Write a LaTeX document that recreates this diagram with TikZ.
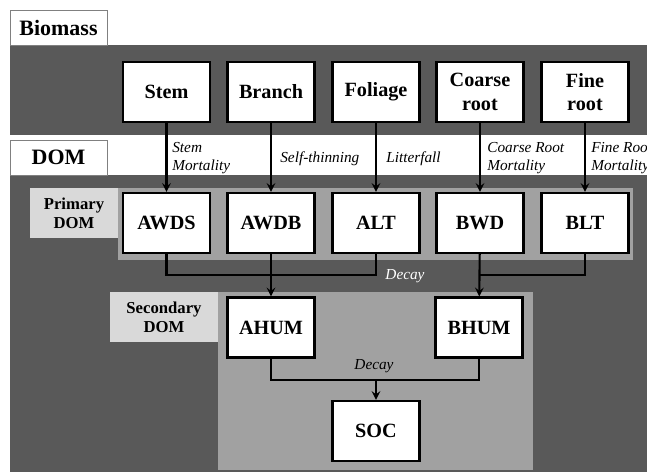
\documentclass[tikz,border=0pt]{standalone}
\usepackage{fontspec}
\setmainfont{Liberation Serif}
\begin{document}
\begin{tikzpicture}[x=0.02cm, y=-0.02cm,
    pool/.style={draw, very thick, fill=white, minimum width=1.74cm, minimum height=1.2cm,
      inner sep=1pt, align=center, font=\bfseries\fontsize{11.5}{13.5}\selectfont},
    tag/.style={draw=gray, fill=white, minimum width=1.94cm, minimum height=0.7cm,
      font=\bfseries\fontsize{12.5}{13}\selectfont},
    subtag/.style={fill=black!15, align=center, inner sep=0pt,
      font=\bfseries\fontsize{9.5}{11}\selectfont},
    flow/.style={anchor=north west, align=left, inner sep=0pt,
      font=\itshape\fontsize{8.7}{10}\selectfont},
    link/.style={very thick}]
  \useasboundingbox (0,0) rectangle (647,472);
  % background bands
  \fill[black!65] (10,45) rectangle (647,135);
  \fill[black!65] (10,175) rectangle (647,472);
  \fill[black!37] (118,188) rectangle (633,260);
  \fill[black!37] (218,292) rectangle (533,470);
  \node[subtag, minimum width=1.76cm, minimum height=1cm] (prim) at (74,213) {Primary\\DOM};
  \node[subtag, minimum width=2.16cm, minimum height=1cm] (sec) at (164,317) {Secondary\\DOM};
  \node[tag] (bio) at (58.5,27.5) {Biomass};
  \node[tag] (dom) at (58.5,157.5) {DOM};
  % biomass pools
  \node[pool] (stem) at (166.5,92) {Stem};
  \node[pool] (branch) at (271,92) {Branch};
  \node[pool] (foliage) at (376,92) {Foliage};
  \node[pool] (croot) at (480,92) {Coarse\\root};
  \node[pool] (froot) at (585,92) {Fine\\root};
  % primary DOM
  \node[pool] (awds) at (166.5,223) {AWDS};
  \node[pool] (awdb) at (271,223) {AWDB};
  \node[pool] (alt) at (376,223) {ALT};
  \node[pool] (bwd) at (480,223) {BWD};
  \node[pool] (blt) at (585,223) {BLT};
  % secondary DOM
  \node[pool] (ahum) at (271,327.5) {AHUM};
  \node[pool] (bhum) at (479,327.5) {BHUM};
  \node[pool] (soc) at (376,431) {SOC};
  % transfers
  \draw[link, ->, >=stealth] (stem) -- (awds);
  \draw[link, ->, >=stealth] (branch) -- (awdb);
  \draw[link, ->, >=stealth] (foliage) -- (alt);
  \draw[link, ->, >=stealth] (croot) -- (bwd);
  \draw[link, ->, >=stealth] (froot) -- (blt);
  \node[flow] (l1) at (172,142) {Stem\\Mortality};
  \node[flow] (l2) at (280,151) {Self-thinning};
  \node[flow] (l3) at (386,151) {Litterfall};
  \node[flow] (l4) at (487,142) {Coarse Root\\Mortality};
  \node[flow] (l5) at (591,142) {Fine Root\\Mortality};
  % decay
  \coordinate (j1) at (166.5,275);
  \coordinate (j2) at (376,275);
  \coordinate (j3) at (585,275);
  \draw[link] (awds) -- (j1) -- (j2) -- (alt);
  \draw[link, ->, >=stealth] (awdb) -- (ahum);
  \draw[link] (blt) -- (j3) -- (480,275);
  \draw[link, ->, >=stealth] (bwd) -- (bhum);
  \node[white, font=\itshape\fontsize{8.7}{10}\selectfont] (d1) at (405,276) {Decay};
  \coordinate (k1) at (271,380);
  \coordinate (k2) at (479,380);
  \coordinate (k3) at (376,380);
  \draw[link] (ahum) -- (k1) -- (k2) -- (bhum);
  \draw[link, ->, >=stealth] (k3) -- (soc);
  \node[font=\itshape\fontsize{8.7}{10}\selectfont] (d2) at (374,366) {Decay};
\end{tikzpicture}
\end{document}
